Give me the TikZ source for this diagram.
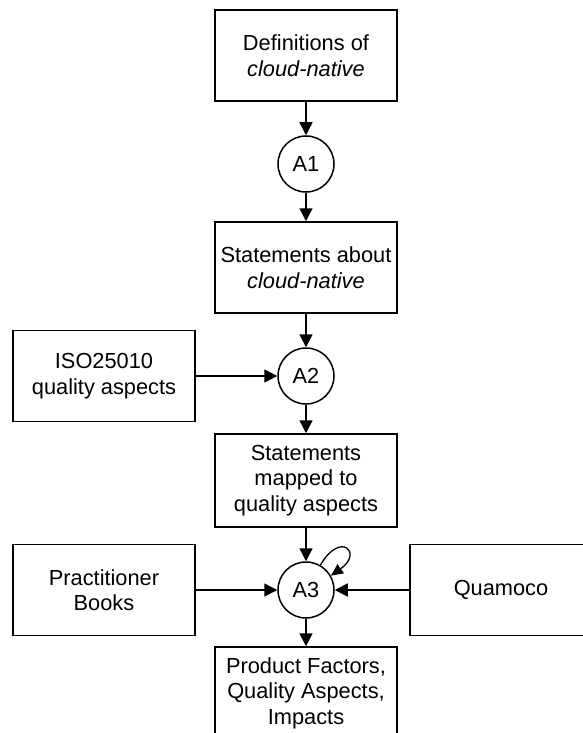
\documentclass[tikz,border=0pt]{standalone}
\usepackage{fontspec}
\setmainfont{Liberation Sans}
\usetikzlibrary{arrows.meta}
\begin{document}
\begin{tikzpicture}[x=1pt,y=-1pt,
  line width=1.5pt,
  every node/.style={font=\fontsize{21.8}{25.5}\selectfont, align=center},
  artefact/.style={draw, rectangle, minimum width=182pt, minimum height=91pt, inner sep=0pt},
  activity/.style={draw, circle, minimum size=56pt, inner sep=0pt},
  flow/.style={-{Triangle[length=13pt,width=13pt]}}]
  \useasboundingbox (0,0) rectangle (583,733);
  \clip (0,0) rectangle (583,733);

  % main chain
  \node[artefact] (defs) at (306,55.5) {Definitions of\\\textit{cloud-native}};
  \node[activity] (a1) at (306,164) {A1};
  \node[artefact] (stmts) at (306,267.5) {Statements about\\\textit{cloud-native}};
  \node[activity] (a2) at (306,376) {A2};
  \node[artefact, minimum height=93pt] (mapped) at (306,480.5) {Statements\\mapped to\\quality aspects};
  \node[activity] (a3) at (306,590) {A3};
  \node[artefact, minimum height=92pt] (result) at (306,693) {Product Factors,\\Quality Aspects,\\Impacts};

  % side inputs
  \node[artefact] (iso) at (104,376) {ISO25010\\quality aspects};
  \node[artefact] (books) at (104,590) {Practitioner\\Books};
  \node[artefact] (quamoco) at (501,590) {Quamoco};

  % connectors
  \draw[flow] (defs) -- (a1);
  \draw[flow] (a1) -- (stmts);
  \draw[flow] (stmts) -- (a2);
  \draw[flow] (iso) -- (a2);
  \draw[flow] (a2) -- (mapped);
  \draw[flow] (mapped) -- (a3);
  \draw[flow] (books) -- (a3);
  \draw[flow] (quamoco) -- (a3);
  \draw[flow] (a3) -- (result);
  % self-loop of A3 (y axis points down, so upward angles are negative)
  \draw[-{Triangle[length=12pt,width=11pt]}, line width=1.3pt]
    (a3.60) .. controls +(-60:40) and +(-35:40) .. (a3.30);
\end{tikzpicture}
\end{document}
